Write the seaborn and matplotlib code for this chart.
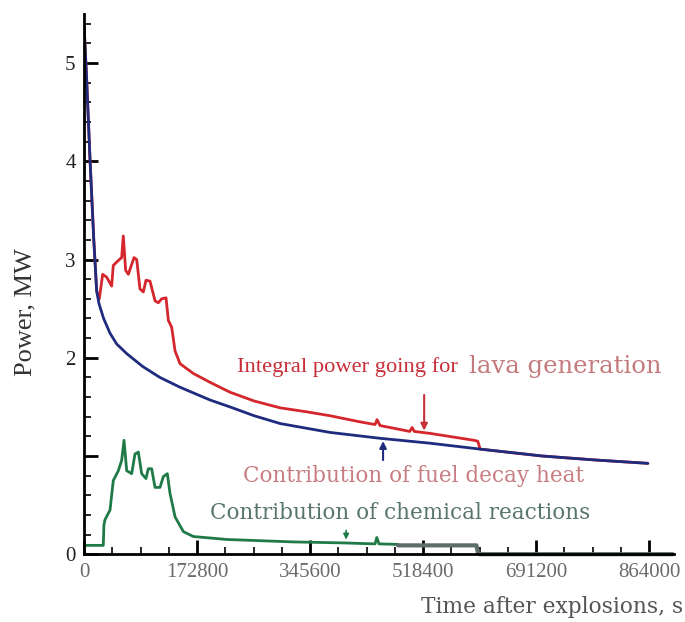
import matplotlib
matplotlib.use("Agg")
import matplotlib.pyplot as plt
from matplotlib.ticker import MultipleLocator
import seaborn as sns
import numpy as np

# Data: time after explosions (s) vs power (MW)
t_fuel = [0, 4000, 9000, 15000, 19400, 23000, 30000, 39800, 50000, 65700, 90000,
          116000, 146800, 192700, 223000, 260000, 300000, 376000, 452600, 529000,
          605600, 700000, 780000, 862000]
p_fuel = [5.40, 4.85, 4.05, 3.20, 2.68, 2.55, 2.40, 2.25, 2.14, 2.04, 1.91,
          1.80, 1.70, 1.57, 1.50, 1.41, 1.33, 1.24, 1.18, 1.13,
          1.07, 1.00, 0.96, 0.925]

t_total = [0, 4000, 9000, 15000, 19400, 23400, 28600, 34700, 42300, 44800, 52500,
           57600, 60100, 63700, 67800, 76500, 80600, 85600, 90700, 94800, 100900,
           108600, 113600, 118800, 125400, 129000, 134100, 139200, 146800, 167200,
           192700, 223000, 260000, 300000, 340000, 376000, 420000, 445000, 448000,
           452600, 498000, 501600, 505000, 529000, 596000, 602000, 605600, 700000,
           780000, 862000]
p_total = [5.40, 4.85, 4.05, 3.20, 2.68, 2.60, 2.85, 2.82, 2.73, 2.94, 2.99,
           3.02, 3.24, 2.89, 2.85, 3.02, 3.00, 2.70, 2.67, 2.79, 2.78,
           2.58, 2.56, 2.60, 2.61, 2.38, 2.31, 2.07, 1.94, 1.84,
           1.75, 1.65, 1.56, 1.49, 1.45, 1.41, 1.35, 1.32, 1.37,
           1.31, 1.25, 1.29, 1.25, 1.23, 1.16, 1.15, 1.07, 1.00,
           0.96, 0.925]

t_chem = [0, 4100, 29500, 30500, 32100, 39800, 44800, 52500, 57600, 61200, 65300,
          72900, 78000, 83100, 88200, 94800, 98300, 103500, 108600, 116200,
          121300, 127400, 131500, 139200, 151900, 167200, 218200, 320000,
          396500, 445000, 447600, 451000, 480000]
p_chem = [0.09, 0.09, 0.09, 0.30, 0.35, 0.45, 0.75, 0.85, 0.955, 1.16, 0.85,
          0.82, 1.02, 1.04, 0.82, 0.77, 0.87, 0.87, 0.68, 0.68,
          0.79, 0.82, 0.62, 0.38, 0.23, 0.18, 0.15, 0.125,
          0.115, 0.105, 0.17, 0.105, 0.10]

# tail of the chemical curve (drawn grey in the original scan)
t_chem_tail = [480000, 540000, 600000, 602000, 605000, 900000]
p_chem_tail = [0.09, 0.09, 0.09, 0.02, 0.0, 0.0]

x_ticks = [0, 172800, 345600, 518400, 691200, 864000]
y_ticks = [0, 1, 2, 3, 4, 5]
y_ticklabels = ["0", "", "2", "3", "4", "5"]

sns.set_style("white")
plt.rcParams["font.family"] = ["Liberation Serif", "DejaVu Serif"]
wide = ["DejaVu Serif"]

fig = plt.figure(figsize=(6.85, 6.22), dpi=100)
ax = fig.add_axes([0.1226, 0.109, 0.8614, 0.8685])

red = "#d4262c"
navy = "#1f2b7e"
green = "#1f7a48"

sns.lineplot(x=t_total, y=p_total, ax=ax, color=red, lw=2.0, sort=False, estimator=None)
sns.lineplot(x=t_fuel, y=p_fuel, ax=ax, color=navy, lw=2.0, sort=False, estimator=None)
sns.lineplot(x=t_chem, y=p_chem, ax=ax, color=green, lw=2.0, sort=False, estimator=None)
sns.lineplot(x=t_chem_tail, y=p_chem_tail, ax=ax, color="#5e6e6b", lw=3.0, sort=False,
             estimator=None, clip_on=False)

ax.set_xlim(0, 902000)
ax.set_ylim(0, 5.5)
ax.set_xticks(x_ticks)
ax.set_xticklabels([str(v) for v in x_ticks])
ax.set_yticks(y_ticks)
ax.set_yticklabels(y_ticklabels)
ax.xaxis.set_minor_locator(MultipleLocator(43200))
ax.yaxis.set_minor_locator(MultipleLocator(0.2))
ax.set_xlabel("")
ax.set_ylabel("")

for side in ["top", "right"]:
    ax.spines[side].set_visible(False)
for side in ["left", "bottom"]:
    ax.spines[side].set_color("black")
    ax.spines[side].set_linewidth(2.0)

ax.tick_params(axis="both", which="major", direction="in", length=10, width=2, color="black")
ax.tick_params(axis="both", which="minor", direction="in", length=5, width=1.2, color="black")
ax.tick_params(axis="x", which="major", labelsize=15, labelcolor="#6a6a6a", pad=6)
ax.tick_params(axis="y", which="major", labelsize=15, labelcolor="#222222", pad=6)
ax.tick_params(bottom=True, left=True, which="both")

# annotations
ax.text(234000, 1.91, "Integral power going for", color="#c8303a", fontsize=16.2,
        ha="left", va="center")
ax.text(588000, 1.91, "lava generation", color="#c47a7c", fontsize=17.5,
        ha="left", va="center", family=wide)
ax.text(243000, 0.80, "Contribution of fuel decay heat", color="#c77d82", fontsize=15.5,
        ha="left", va="center", family=wide)
ax.text(192700, 0.42, "Contribution of chemical reactions", color="#587668", fontsize=15.5,
        ha="left", va="center", family=wide)

ax.annotate("", xy=(520000, 1.23), xytext=(520000, 1.65),
            arrowprops=dict(arrowstyle="-|>", color="#c8303a", lw=1.5, mutation_scale=10))
ax.annotate("", xy=(457200, 1.18), xytext=(457200, 0.93),
            arrowprops=dict(arrowstyle="-|>", color=navy, lw=1.5, mutation_scale=10))
ax.annotate("", xy=(400700, 0.12), xytext=(400700, 0.27),
            arrowprops=dict(arrowstyle="-|>", color=green, lw=1.2, mutation_scale=8))

fig.text(0.997, 1 - 607 / 622, "Time after explosions, s", color="#555555",
         fontsize=15.7, ha="right", va="center", family=wide)
fig.text(25 / 685, 1 - 312 / 622, "Power, MW", color="#333333", fontsize=19,
         rotation=90, ha="center", va="center")

fig.savefig("out.png", dpi=100)
